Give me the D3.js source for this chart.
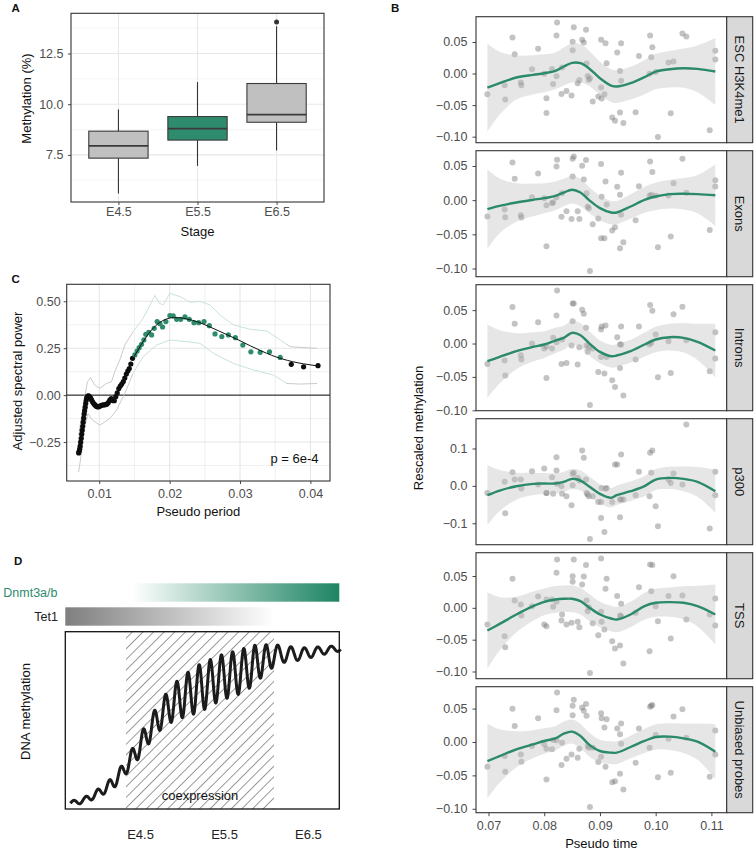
<!DOCTYPE html>
<html><head><meta charset="utf-8">
<script src="https://cdn.jsdelivr.net/npm/d3@7"></script>
<style>body{margin:0;background:#fff}svg{display:block}</style>
</head><body><svg id="fig" width="754" height="855"></svg>
<script>
// ---------------- Panel A data ----------------
const stages = ["E4.5","E5.5","E6.5"];
const boxLow  = [5.60, 6.96, 7.72];
const boxQ1   = [7.34, 8.23, 9.11];
const boxMed  = [7.94, 8.80, 9.49];
const boxQ3   = [8.67, 9.39, 11.02];
const boxHigh = [9.74, 11.09, 13.85];
const boxOutliers = [[], [], [14.06]];
const boxHighlight = "E5.5";
const aTicks = [7.5, 10, 12.5];

// ---------------- Panel C data ----------------
const specLow = [[0.00708,-0.308],[0.00715,-0.299],[0.00722,-0.288],[0.00729,-0.272],[0.00736,-0.251],[0.00744,-0.230],[0.00751,-0.208],[0.00758,-0.187],[0.00765,-0.166],[0.00772,-0.144],[0.00779,-0.123],[0.00786,-0.101],[0.00793,-0.083],[0.00801,-0.064],[0.00808,-0.045],[0.00815,-0.029],[0.00822,-0.016],[0.00829,-0.009],[0.00836,-0.005],[0.0085,-0.004],[0.00865,-0.009],[0.00879,-0.016],[0.00893,-0.027],[0.00907,-0.037],[0.00922,-0.045],[0.00936,-0.051],[0.0095,-0.056],[0.00964,-0.060],[0.00979,-0.063],[0.0100,-0.061],[0.01021,-0.056],[0.01043,-0.053],[0.01064,-0.052],[0.01085,-0.051],[0.01107,-0.048],[0.01128,-0.040],[0.0115,-0.027],[0.01171,-0.018],[0.01192,-0.029],[0.01214,-0.030],[0.01235,-0.008],[0.01256,0.012],[0.01278,0.035],[0.01299,0.048],[0.0132,0.059],[0.01342,0.072],[0.01363,0.091],[0.01385,0.112],[0.01406,0.128],[0.01427,0.142],[0.01449,0.166],[0.01473,0.196]];
const specSig = [[0.01506,0.214],[0.01538,0.235],[0.01567,0.253],[0.01601,0.271],[0.01634,0.294],[0.01662,0.324],[0.01703,0.335],[0.01744,0.321],[0.01781,0.356],[0.01823,0.392],[0.01862,0.381],[0.019,0.363],[0.01947,0.392],[0.02004,0.424],[0.02051,0.422],[0.021,0.404],[0.02157,0.404],[0.02218,0.417],[0.02279,0.404],[0.02346,0.386],[0.02413,0.386],[0.02489,0.392],[0.02564,0.370],[0.02645,0.326],[0.02741,0.312],[0.02835,0.321],[0.02934,0.306],[0.0304,0.267],[0.03154,0.231],[0.03286,0.228],[0.03419,0.231],[0.03571,0.201]];
const specHigh = [[0.03728,0.164],[0.03903,0.151],[0.04108,0.157]];
const specFit = [[0.0147,0.19],[0.0155,0.24],[0.0165,0.30],[0.0175,0.35],[0.0185,0.385],[0.0195,0.405],[0.0205,0.413],[0.0215,0.412],[0.0225,0.405],[0.024,0.39],[0.0255,0.367],[0.027,0.342],[0.0285,0.316],[0.030,0.29],[0.0315,0.262],[0.033,0.236],[0.0345,0.212],[0.036,0.193],[0.0375,0.178],[0.039,0.167],[0.0411,0.155]];
const specUpper = [[0.00708,-0.214],[0.00769,-0.062],[0.00832,0.071],[0.00875,0.093],[0.00936,0.053],[0.01007,0.036],[0.01103,0.062],[0.01174,0.071],[0.01221,0.125],[0.01292,0.187],[0.01363,0.267],[0.01481,0.338],[0.01624,0.41],[0.01791,0.531],[0.01852,0.49],[0.01909,0.481],[0.02004,0.543],[0.02147,0.525],[0.02289,0.495],[0.02432,0.499],[0.02574,0.481],[0.02717,0.427],[0.02906,0.374],[0.03144,0.351],[0.03382,0.342],[0.03571,0.294],[0.03714,0.258],[0.04094,0.249]];
const specLower = [[0.00708,-0.41],[0.00751,-0.30],[0.00793,-0.17],[0.0084,-0.098],[0.00893,-0.13],[0.01007,-0.16],[0.0115,-0.125],[0.01245,-0.08],[0.01363,0.009],[0.01481,0.116],[0.01624,0.205],[0.01815,0.267],[0.02004,0.294],[0.02242,0.285],[0.02432,0.276],[0.02621,0.223],[0.02906,0.169],[0.03191,0.134],[0.03476,0.107],[0.03667,0.062],[0.03856,0.059],[0.04094,0.062]];
const sigRange = [0.0148, 0.0365];
const cXTicks = [0.01, 0.02, 0.03, 0.04];
const cYTicks = [-0.25, 0, 0.25, 0.5];
const pLabel = "p = 6e-4";

// ---------------- Panel B data ----------------
const facetNames = ["ESC H3K4me1","Exons","Introns","p300","TSS","Unbiased probes"];
const pseudoTime = [0.0698,0.0729,0.0730,0.0743,0.0747,0.0758,0.0759,0.0778,0.0789,0.0800,0.0804,0.0804,0.0814,0.0816,0.0822,0.0822,0.0823,0.0831,0.0832,0.0840,0.0849,0.0851,0.0851,0.0853,0.0860,0.0863,0.0868,0.0871,0.0875,0.0876,0.0878,0.0880,0.0882,0.0887,0.0897,0.0902,0.0902,0.0903,0.0908,0.0910,0.0912,0.0922,0.0927,0.0931,0.0936,0.0936,0.0938,0.0938,0.0942,0.0964,0.0970,0.0989,0.0990,0.0992,0.0994,0.1000,0.1004,0.1023,0.1027,0.1032,0.1048,0.1055,0.1097,0.1107,0.1107];
const methESC = [-0.0328,-0.0185,-0.0413,0.0571,0.0307,-0.0143,-0.0185,0.0069,0.0392,-0.0005,-0.0624,-0.0392,0.0074,-0.0164,-0.0042,0.0603,0.0810,-0.0323,0.0095,-0.0275,-0.0349,0.0503,0.0370,0.0735,-0.0153,-0.0101,0.0534,0.0492,0.0693,0.0159,-0.0037,-0.0101,-0.0074,-0.0444,-0.0365,-0.0222,0.0534,-0.0397,-0.0328,0.0481,0.0164,-0.0698,-0.0746,0.0333,0.0042,-0.0619,0.0481,-0.0116,-0.0783,-0.0614,0.0280,-0.0005,0.0603,0.0259,0.0418,0.0026,-0.1005,0.0175,-0.0630,0.0190,0.0635,0.0587,-0.0899,0.0360,0.0222];
const methExons = [-0.0239,-0.0137,-0.0249,0.0552,0.0313,-0.0220,-0.0254,0.0044,0.0391,0.0029,-0.0674,-0.0073,-0.0044,-0.0029,0.0044,0.0494,0.0591,-0.0244,0.0103,-0.0161,-0.0274,0.0347,0.0606,0.0640,-0.0161,-0.0274,0.0503,0.0303,0.0587,0.0103,-0.0093,-0.0117,-0.1036,-0.0352,-0.0269,-0.0557,0.0528,0.0049,-0.0557,0.0274,-0.0064,-0.0445,-0.0396,0.0196,0.0078,-0.0704,0.0401,-0.0215,-0.0616,-0.0293,0.0205,0.0064,0.0567,0.0078,0.0411,0.0064,-0.0689,0.0068,-0.0533,0.0249,0.0606,0.0108,-0.0435,0.0293,0.0200];
const methIntrons = [-0.0305,-0.0255,-0.048,0.0545,0.0295,-0.0175,-0.024,0,0.032,-0.0075,-0.0515,-0.0045,-0.0075,0.0085,0.002,0.042,0.0795,-0.0305,0.006,-0.029,-0.003,0.0335,0.06,0.06,-0.0315,-0.0055,0.0505,0.0445,0.0235,-0.003,-0.0125,-0.0055,-0.092,-0.0075,-0.0425,-0.02,0.021,0.0255,-0.045,0.027,-0.02,-0.055,-0.065,0.0095,-0.0015,-0.0365,0.0255,-0.0015,-0.078,-0.024,0.0255,-0.0015,0.0575,0.001,0.049,0.0135,-0.0505,0.0035,-0.044,0.044,0.055,0.005,-0.0415,0.017,-0.0225];
const methP300 = [-0.0188,0.0107,-0.0732,0.0366,0.017,0.017,-0.0071,0.0393,0.0036,0.0464,-0.0188,-0.0188,0.0232,-0.0214,0.0411,0.0768,0.0054,-0.0009,-0.0214,-0.0277,-0.0518,0.0321,0.0018,0.0348,0.0214,0.0143,0.0946,0.075,0.017,-0.0188,-0.0232,-0.0277,-0.1420,-0.0277,-0.0429,-0.0857,-0.0429,-0.0054,-0.1232,-0.008,-0.0054,-0.0429,0.0571,0.0571,-0.0366,-0.0839,0.0839,-0.0366,-0.0366,-0.025,0.0375,-0.0277,0.0884,0.0348,0.0946,-0.0545,-0.108,0.017,0.008,0.033,0.0036,0.1643,-0.1143,0.0375,-0.025];
const methTSS = [-0.0262,-0.0446,-0.0619,0.0456,0.0115,0.0052,-0.0121,0.0026,0.0178,-0.0262,-0.0289,0.0131,0.0131,0.0016,0.0094,0.0551,0.0761,-0.0199,-0.0105,-0.0262,-0.0236,0.0498,0.0409,0.0761,-0.022,-0.0304,0.0367,0.0493,0.0672,0.0115,-0.0052,0.001,-0.1023,-0.0241,-0.043,-0.0063,0.0776,-0.022,-0.0341,0.0299,0.0456,-0.0525,-0.064,0.0184,-0.0121,-0.0593,0.0063,-0.0131,-0.0876,-0.0079,0.0325,-0.0682,0.0682,0.0262,0.0672,0.0026,-0.021,0.0184,-0.0483,0.0498,0.0194,-0.0184,-0.0105,0.0147,-0.0278];
const methUnbiased = [-0.0371,-0.0211,-0.0446,0.0496,0.0241,-0.0186,-0.0296,-0.006,0.0356,-0.0035,-0.0562,-0.01,-0.011,0.003,0.0025,0.0476,0.0742,-0.0346,-0.001,-0.0251,-0.0186,0.0401,0.0542,0.0632,-0.0236,-0.01,0.0517,0.0466,0.0567,0.0391,-0.006,-0.0085,-0.0973,-0.0085,-0.0301,0.0431,-0.0221,0.0356,0.0216,-0.0371,0.0341,-0.0602,-0.0587,0.0201,0.0115,-0.0476,0.0276,-0.0025,-0.0712,-0.0311,0.0201,-0.0085,0.0527,0.0542,0.0552,0.0105,-0.0527,0.005,-0.0461,0.0381,0.0491,0.0065,-0.0522,0.0171,-0.0186];
const smoothTime = [0.0698,0.072,0.075,0.078,0.080,0.082,0.0835,0.085,0.0865,0.088,0.090,0.092,0.093,0.0955,0.098,0.100,0.1025,0.105,0.1075,0.1107];
const fitESC = [-0.0222,-0.0153,-0.0063,-0.0021,0.0005,0.0042,0.0111,0.0169,0.0164,0.0085,-0.0074,-0.0190,-0.0206,-0.0153,-0.0058,0.0032,0.0069,0.0085,0.0074,0.0032];
const seESC  = [0.070,0.050,0.035,0.031,0.030,0.029,0.030,0.031,0.030,0.028,0.026,0.026,0.026,0.026,0.027,0.028,0.029,0.031,0.037,0.053];
const fitExons = [-0.0132,-0.0083,-0.0034,0.0005,0.0029,0.0064,0.0112,0.0152,0.0112,0.0005,-0.0117,-0.0181,-0.0181,-0.0093,0.0005,0.0054,0.0088,0.0093,0.0088,0.0073];
const seExons  = [0.058,0.040,0.028,0.024,0.022,0.021,0.020,0.020,0.020,0.019,0.018,0.017,0.017,0.018,0.019,0.020,0.021,0.023,0.028,0.045];
const fitIntrons = [-0.0265,-0.02,-0.0115,-0.005,-0.0015,0.0045,0.0085,0.016,0.0125,0.001,-0.0125,-0.019,-0.018,-0.0115,-0.0015,0.006,0.0095,0.0085,0.0025,-0.0105];
const seIntrons  = [0.055,0.040,0.027,0.022,0.020,0.019,0.018,0.018,0.018,0.018,0.017,0.017,0.017,0.017,0.018,0.019,0.020,0.022,0.027,0.040];
const fitP300 = [-0.025,-0.0125,-0.0009,0.0054,0.0063,0.0063,0.0107,0.0188,0.0143,-0.0009,-0.0214,-0.0321,-0.025,-0.0143,-0.0009,0.017,0.0214,0.0188,0.0107,-0.0143];
const seP300  = [0.080,0.055,0.036,0.030,0.028,0.027,0.027,0.027,0.027,0.027,0.026,0.026,0.026,0.026,0.027,0.028,0.030,0.033,0.040,0.058];
const fitTSS = [-0.0357,-0.0252,-0.0105,0.0026,0.0094,0.0131,0.0142,0.0142,0.0105,0.001,-0.0105,-0.0168,-0.0184,-0.0105,0.0026,0.0079,0.0089,0.0079,0.0026,-0.0105];
const seTSS  = [0.060,0.042,0.028,0.023,0.021,0.021,0.021,0.021,0.021,0.021,0.020,0.020,0.020,0.020,0.021,0.022,0.023,0.026,0.032,0.047];
const fitUnbiased = [-0.0286,-0.0211,-0.011,-0.0035,0.0015,0.0055,0.0125,0.0155,0.009,-0.0035,-0.0135,-0.016,-0.016,-0.0075,0.0015,0.0075,0.008,0.0055,0.0005,-0.0145];
const seUnbiased  = [0.056,0.040,0.027,0.021,0.019,0.018,0.018,0.018,0.018,0.018,0.017,0.017,0.017,0.017,0.018,0.019,0.020,0.022,0.027,0.041];
const bXTicks = [0.07, 0.08, 0.09, 0.10, 0.11];
const bYTicks = [-0.10, -0.05, 0, 0.05];
const bYTicksP300 = [-0.1, 0, 0.1];

// ---------------- Panel D data (schematic) ----------------
const dStageNames = ["E4.5","E5.5","E6.5"];
const dStageTimes = [4.5, 5.5, 6.5];
const dTimeRange = [3.61, 6.873];
const coexpression = [4.333, 6.095];
const dnmtRange = [4.402, 6.873];
const tet1Range = [3.61, 6.095];
const waveT     = [3.67,3.845,4.024,4.179,4.333,4.5,4.655,4.798,4.976,5.214,5.452,5.69,5.845,6.012,6.167,6.405,6.798,6.89];
const waveLevel = [0.032,0.051,0.096,0.147,0.237,0.357,0.474,0.558,0.626,0.682,0.739,0.774,0.808,0.852,0.874,0.874,0.902,0.905];
const waveAmp   = [0.011,0.017,0.023,0.034,0.040,0.062,0.070,0.085,0.115,0.135,0.128,0.124,0.115,0.075,0.050,0.034,0.017,0.014];
const periodT   = [3.67, 4.3, 6.05, 6.2, 6.89];
const periodLen = [0.15, 0.133, 0.133, 0.16, 0.16];

// ======================================================
const FONT = '"Liberation Sans", Arial, Helvetica, sans-serif';
const GREEN = "#2e8b6e";
const svg = d3.select("#fig").attr("font-family", FONT);

function styleAxis(g, fs) {
  g.select(".domain").remove();
  g.attr("font-family", FONT);
  g.selectAll(".tick line").attr("stroke", "#333").attr("stroke-width", 0.9);
  g.selectAll(".tick text").attr("fill", "#4d4d4d").attr("font-size", fs || 12.5);
}
function panelLabel(t, x, y) {
  svg.append("text").attr("x", x).attr("y", y).attr("font-weight", "bold")
    .attr("font-size", 11.5).attr("fill", "#111").text(t);
}
function vTitle(t, x, y, fs) {
  svg.append("text").attr("transform", `translate(${x},${y}) rotate(-90)`)
    .attr("text-anchor", "middle").attr("font-size", fs || 13).attr("fill", "#111").text(t);
}
function expand(ext, f) { const d = (ext[1] - ext[0]) * f; return [ext[0] - d, ext[1] + d]; }

// ---------------- Panel A ----------------
(function(){
  const P = {l:71, r:324, t:13.3, b:202};
  const x = d3.scalePoint().domain(stages).range([P.l, P.r]).padding(0.6);
  const all = boxLow.concat(boxHigh, boxOutliers.flat());
  const y = d3.scaleLinear().domain(expand(d3.extent(all), 0.05)).range([P.b, P.t]);
  const g = svg.append("g");
  const step = aTicks[1] - aTicks[0];
  const minor = aTicks.map(t => t - step/2).concat([aTicks[aTicks.length-1] + step/2])
    .filter(v => v > y.domain()[0] && v < y.domain()[1]);
  g.selectAll(".mn").data(minor).join("line").attr("x1", P.l).attr("x2", P.r)
    .attr("y1", d => y(d)).attr("y2", d => y(d)).attr("stroke", "#f0f0f0").attr("stroke-width", 0.7);
  g.selectAll(".mj").data(aTicks).join("line").attr("x1", P.l).attr("x2", P.r)
    .attr("y1", d => y(d)).attr("y2", d => y(d)).attr("stroke", "#e8e8e8").attr("stroke-width", 1.1);
  g.selectAll(".mv").data(stages).join("line").attr("y1", P.t).attr("y2", P.b)
    .attr("x1", d => x(d)).attr("x2", d => x(d)).attr("stroke", "#e8e8e8").attr("stroke-width", 1.1);
  const bw = x.step() * 0.75;
  stages.forEach((s, i) => {
    const cx = x(s);
    g.append("line").attr("x1", cx).attr("x2", cx).attr("y1", y(boxHigh[i])).attr("y2", y(boxQ3[i]))
      .attr("stroke", "#333").attr("stroke-width", 1.1);
    g.append("line").attr("x1", cx).attr("x2", cx).attr("y1", y(boxQ1[i])).attr("y2", y(boxLow[i]))
      .attr("stroke", "#333").attr("stroke-width", 1.1);
    g.append("rect").attr("x", cx - bw/2).attr("width", bw).attr("y", y(boxQ3[i]))
      .attr("height", y(boxQ1[i]) - y(boxQ3[i]))
      .attr("fill", s === boxHighlight ? GREEN : "#c0c0c0").attr("stroke", "#3a3a3a").attr("stroke-width", 1.1);
    g.append("line").attr("x1", cx - bw/2).attr("x2", cx + bw/2).attr("y1", y(boxMed[i])).attr("y2", y(boxMed[i]))
      .attr("stroke", "#3a3a3a").attr("stroke-width", 1.7);
    boxOutliers[i].forEach(o => g.append("circle").attr("cx", cx).attr("cy", y(o)).attr("r", 2.5).attr("fill", "#333"));
  });
  g.append("rect").attr("x", P.l).attr("y", P.t).attr("width", P.r - P.l).attr("height", P.b - P.t)
    .attr("fill", "none").attr("stroke", "#333").attr("stroke-width", 1.1);
  const ya = svg.append("g").attr("transform", `translate(${P.l},0)`)
    .call(d3.axisLeft(y).tickValues(aTicks).tickFormat(d3.format(".1f")).tickSize(3).tickPadding(4.5));
  styleAxis(ya);
  const xa = svg.append("g").attr("transform", `translate(0,${P.b})`)
    .call(d3.axisBottom(x).tickSize(3).tickPadding(2.5));
  styleAxis(xa);
  svg.append("text").attr("x", (P.l + P.r)/2).attr("y", 236).attr("text-anchor", "middle")
    .attr("font-size", 13).attr("fill", "#111").text("Stage");
  vTitle("Methylation (%)", 31, 98.5);
  panelLabel("A", 11.5, 11.7);
})();

// ---------------- Panel C ----------------
(function(){
  const P = {l:66.7, r:330, t:284.3, b:481};
  const allPts = specLow.concat(specSig, specHigh);
  const x = d3.scaleLinear().domain(expand(d3.extent(allPts, d => d[0]), 0.05)).range([P.l, P.r]);
  const yExt = d3.extent(allPts.concat(specUpper, specLower), d => d[1]);
  const y = d3.scaleLinear().domain(expand(yExt, 0.05)).range([P.b, P.t]);
  const g = svg.append("g");
  const xs = cXTicks[1] - cXTicks[0], ys = cYTicks[1] - cYTicks[0];
  const xMinor = cXTicks.map(t => t - xs/2).concat([cXTicks[cXTicks.length-1] + xs/2])
    .filter(v => v > x.domain()[0] && v < x.domain()[1]);
  const yMinor = cYTicks.map(t => t - ys/2).concat([cYTicks[cYTicks.length-1] + ys/2])
    .filter(v => v > y.domain()[0] && v < y.domain()[1]);
  g.selectAll(".a").data(yMinor).join("line").attr("x1", P.l).attr("x2", P.r)
    .attr("y1", d => y(d)).attr("y2", d => y(d)).attr("stroke", "#ececec").attr("stroke-width", 0.8);
  g.selectAll(".b").data(xMinor).join("line").attr("y1", P.t).attr("y2", P.b)
    .attr("x1", d => x(d)).attr("x2", d => x(d)).attr("stroke", "#ececec").attr("stroke-width", 0.8);
  g.selectAll(".c").data(cYTicks).join("line").attr("x1", P.l).attr("x2", P.r)
    .attr("y1", d => y(d)).attr("y2", d => y(d)).attr("stroke", "#e6e6e6").attr("stroke-width", 1.1);
  g.selectAll(".d").data(cXTicks).join("line").attr("y1", P.t).attr("y2", P.b)
    .attr("x1", d => x(d)).attr("x2", d => x(d)).attr("stroke", "#e6e6e6").attr("stroke-width", 1.1);
  g.append("line").attr("x1", P.l).attr("x2", P.r).attr("y1", y(0)).attr("y2", y(0))
    .attr("stroke", "#111").attr("stroke-width", 1);
  const defs = svg.append("defs");
  defs.append("clipPath").attr("id", "cSig").append("rect")
    .attr("x", x(sigRange[0])).attr("width", x(sigRange[1]) - x(sigRange[0])).attr("y", P.t).attr("height", P.b - P.t);
  defs.append("clipPath").attr("id", "cL").append("rect")
    .attr("x", P.l).attr("width", x(sigRange[0]) - P.l).attr("y", P.t).attr("height", P.b - P.t);
  defs.append("clipPath").attr("id", "cR").append("rect")
    .attr("x", x(sigRange[1])).attr("width", P.r - x(sigRange[1])).attr("y", P.t).attr("height", P.b - P.t);
  const ln = d3.line().x(d => x(d[0])).y(d => y(d[1]));
  [specUpper, specLower].forEach(arr => {
    [["cL", "#c4c4c4"], ["cR", "#c4c4c4"], ["cSig", "#c3e0d4"]].forEach(([cp, col]) => {
      g.append("path").attr("d", ln(arr)).attr("fill", "none").attr("stroke", col)
        .attr("stroke-width", 0.9).attr("clip-path", `url(#${cp})`);
    });
  });
  g.selectAll(".pl").data(specLow.concat(specHigh)).join("circle")
    .attr("cx", d => x(d[0])).attr("cy", d => y(d[1])).attr("r", 2.6).attr("fill", "#0d0d0d");
  g.selectAll(".ps").data(specSig).join("circle")
    .attr("cx", d => x(d[0])).attr("cy", d => y(d[1])).attr("r", 2.6).attr("fill", GREEN);
  g.append("path").attr("d", ln.curve(d3.curveMonotoneX)(specFit)).attr("fill", "none")
    .attr("stroke", "#111").attr("stroke-width", 1);
  g.append("text").attr("x", 318.5).attr("y", 463).attr("text-anchor", "end")
    .attr("font-size", 13).attr("fill", "#111").text(pLabel);
  g.append("rect").attr("x", P.l).attr("y", P.t).attr("width", P.r - P.l).attr("height", P.b - P.t)
    .attr("fill", "none").attr("stroke", "#333").attr("stroke-width", 1.1);
  const ya = svg.append("g").attr("transform", `translate(${P.l},0)`)
    .call(d3.axisLeft(y).tickValues(cYTicks).tickFormat(d3.format(".2f")).tickSize(3).tickPadding(3));
  styleAxis(ya);
  const xa = svg.append("g").attr("transform", `translate(0,${P.b})`)
    .call(d3.axisBottom(x).tickValues(cXTicks).tickFormat(d3.format(".2f")).tickSize(3).tickPadding(5.5));
  styleAxis(xa);
  svg.append("text").attr("x", (P.l + P.r)/2).attr("y", 515.5).attr("text-anchor", "middle")
    .attr("font-size", 13).attr("fill", "#111").text("Pseudo period");
  vTitle("Adjusted spectral power", 22, 381);
  panelLabel("C", 11.5, 283.3);
})();

// ---------------- Panel B ----------------
(function(){
  const P = {l:476, r:726.7, strip:26, top:16.7, h:126, gap:8};
  const facets = [
    {name: facetNames[0], v: methESC, fit: fitESC, se: seESC, ticks: bYTicks, fmt: ".2f"},
    {name: facetNames[1], v: methExons, fit: fitExons, se: seExons, ticks: bYTicks, fmt: ".2f"},
    {name: facetNames[2], v: methIntrons, fit: fitIntrons, se: seIntrons, ticks: bYTicks, fmt: ".2f"},
    {name: facetNames[3], v: methP300, fit: fitP300, se: seP300, ticks: bYTicksP300, fmt: ".1f"},
    {name: facetNames[4], v: methTSS, fit: fitTSS, se: seTSS, ticks: bYTicks, fmt: ".2f"},
    {name: facetNames[5], v: methUnbiased, fit: fitUnbiased, se: seUnbiased, ticks: bYTicks, fmt: ".2f"}
  ];
  const x = d3.scaleLinear().domain(expand(d3.extent(pseudoTime.concat(smoothTime)), 0.05)).range([P.l, P.r]);
  facets.forEach((f, i) => {
    const top = P.top + i * (P.h + P.gap), bot = top + P.h;
    const lo = f.fit.map((v, k) => v - f.se[k]), hi = f.fit.map((v, k) => v + f.se[k]);
    const ext = d3.extent(f.v.concat(lo, hi));
    const y = d3.scaleLinear().domain(expand(ext, 0.05)).range([bot, top]);
    const g = svg.append("g");
    g.selectAll("circle").data(f.v).join("circle")
      .attr("cx", (d, k) => x(pseudoTime[k])).attr("cy", d => y(d)).attr("r", 3)
      .attr("fill", "#7a7a7a").attr("fill-opacity", 0.45);
    const area = d3.area().x((d, k) => x(smoothTime[k])).y0((d, k) => y(lo[k])).y1((d, k) => y(hi[k]))
      .curve(d3.curveCatmullRom.alpha(0.5));
    g.append("path").attr("d", area(f.fit)).attr("fill", "#bdbdbd").attr("fill-opacity", 0.38);
    const line = d3.line().x((d, k) => x(smoothTime[k])).y(d => y(d)).curve(d3.curveCatmullRom.alpha(0.5));
    g.append("path").attr("d", line(f.fit)).attr("fill", "none").attr("stroke", "#2a8a6b").attr("stroke-width", 2.4);
    g.append("rect").attr("x", P.l).attr("y", top).attr("width", P.r - P.l).attr("height", P.h)
      .attr("fill", "none").attr("stroke", "#333").attr("stroke-width", 1.1);
    g.append("rect").attr("x", P.r).attr("y", top).attr("width", P.strip).attr("height", P.h)
      .attr("fill", "#d9d9d9").attr("stroke", "#333").attr("stroke-width", 1.1);
    g.append("text").attr("transform", `translate(${P.r + P.strip/2},${top + P.h/2}) rotate(90)`)
      .attr("text-anchor", "middle").attr("dy", "0.35em").attr("font-size", 13).attr("fill", "#1a1a1a").text(f.name);
    const ya = svg.append("g").attr("transform", `translate(${P.l},0)`)
      .call(d3.axisLeft(y).tickValues(f.ticks).tickFormat(d3.format(f.fmt)).tickSize(3.5).tickPadding(5));
    styleAxis(ya);
    if (i === facets.length - 1) {
      const xa = svg.append("g").attr("transform", `translate(0,${bot})`)
        .call(d3.axisBottom(x).tickValues(bXTicks).tickFormat(d3.format(".2f")).tickSize(3.5).tickPadding(4.5));
      styleAxis(xa);
    }
  });
  svg.append("text").attr("x", (P.l + P.r)/2).attr("y", 848).attr("text-anchor", "middle")
    .attr("font-size", 13).attr("fill", "#111").text("Pseudo time");
  vTitle("Rescaled methylation", 422.5, 428);
  panelLabel("B", 391, 11.7);
})();

// ---------------- Panel D ----------------
(function(){
  const P = {l:65.3, r:339.3, t:631.7, b:809};
  const x = d3.scaleLinear().domain(dTimeRange).range([P.l, P.r]);
  const y = d3.scaleLinear().domain([0, 1]).range([P.b, P.t]);
  const defs = svg.append("defs");
  const gd = defs.append("linearGradient").attr("id", "gDnmt").attr("x1", "0%").attr("x2", "100%");
  gd.append("stop").attr("offset", "0%").attr("stop-color", "#ffffff");
  gd.append("stop").attr("offset", "100%").attr("stop-color", "#1d8463");
  const gt = defs.append("linearGradient").attr("id", "gTet").attr("x1", "0%").attr("x2", "100%");
  gt.append("stop").attr("offset", "0%").attr("stop-color", "#7f7f7f");
  gt.append("stop").attr("offset", "100%").attr("stop-color", "#ffffff");
  const pat = defs.append("pattern").attr("id", "hatch").attr("patternUnits", "userSpaceOnUse")
    .attr("width", 7.5).attr("height", 7.5).attr("patternTransform", "rotate(45)");
  pat.append("line").attr("x1", 0).attr("y1", 0).attr("x2", 0).attr("y2", 7.5)
    .attr("stroke", "#111").attr("stroke-width", 0.85);

  svg.append("rect").attr("x", x(dnmtRange[0])).attr("width", x(dnmtRange[1]) - x(dnmtRange[0]))
    .attr("y", 583.3).attr("height", 18.4).attr("fill", "url(#gDnmt)");
  svg.append("rect").attr("x", x(tet1Range[0])).attr("width", x(tet1Range[1]) - x(tet1Range[0]))
    .attr("y", 607.3).attr("height", 18.4).attr("fill", "url(#gTet)");
  svg.append("text").attr("x", 57.5).attr("y", 597).attr("text-anchor", "end")
    .attr("font-size", 12.5).attr("fill", GREEN).text("Dnmt3a/b");
  svg.append("text").attr("x", 58).attr("y", 621).attr("text-anchor", "end")
    .attr("font-size", 12.5).attr("fill", "#222").text("Tet1");

  svg.append("rect").attr("x", x(coexpression[0])).attr("width", x(coexpression[1]) - x(coexpression[0]))
    .attr("y", P.t).attr("height", P.b - P.t).attr("fill", "url(#hatch)");
  svg.append("text").attr("x", (x(coexpression[0]) + x(coexpression[1]))/2).attr("y", 800)
    .attr("text-anchor", "middle").attr("font-size", 13).attr("fill", "#111").text("coexpression");

  const trend = d3.scaleLinear().domain(waveT).range(waveLevel);
  const amp = d3.scaleLinear().domain(waveT).range(waveAmp);
  const per = d3.scaleLinear().domain(periodT).range(periodLen);
  const pts = [];
  let phase = 0; const dt = 0.003;
  for (let t = waveT[0]; t <= waveT[waveT.length-1]; t += dt) {
    pts.push([t, trend(t) + amp(t) * Math.sin(phase)]);
    phase += 2 * Math.PI * dt / per(t);
  }
  svg.append("path").attr("d", d3.line().x(d => x(d[0])).y(d => y(d[1]))(pts))
    .attr("fill", "none").attr("stroke", "#1c1c1c").attr("stroke-width", 3).attr("stroke-linejoin", "round");
  svg.append("rect").attr("x", P.l).attr("y", P.t).attr("width", P.r - P.l).attr("height", P.b - P.t)
    .attr("fill", "none").attr("stroke", "#111").attr("stroke-width", 1.3);
  const tickScale = d3.scaleOrdinal().domain(dStageNames).range(dStageTimes.map(x));
  const xa = svg.append("g").attr("transform", `translate(0,${P.b})`)
    .call(d3.axisBottom(tickScale).tickSize(0).tickPadding(21));
  styleAxis(xa, 13);
  xa.selectAll(".tick text").attr("fill", "#222");
  vTitle("DNA methylation", 30, 711.5);
  panelLabel("D", 14, 565);
})();
</script></body></html>
